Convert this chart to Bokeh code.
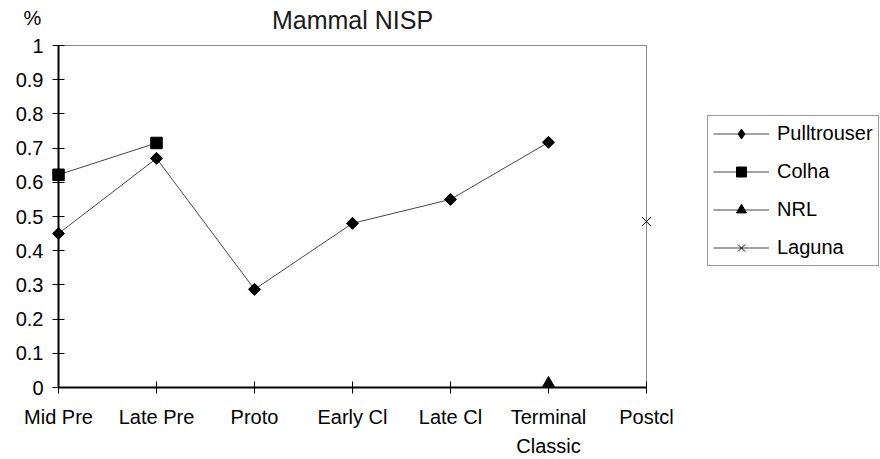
from bokeh.plotting import figure
from bokeh.models import (Range1d, FixedTicker, Legend, LegendItem, Label,
                          ColumnDataSource)
from bokeh.embed import file_html
from bokeh.resources import INLINE

# Periods along the x axis
periods = ["Mid Pre", "Late Pre", "Proto", "Early Cl", "Late Cl",
           "Terminal\nClassic", "Postcl"]

# Mammal NISP proportion per site (None where not recorded)
pulltrouser = [0.45, 0.67, 0.287, 0.48, 0.55, 0.717, None]
colha = [0.622, 0.715, None, None, None, None, None]
nrl = [None, None, None, None, None, 0.012, None]
laguna = [None, None, None, None, None, None, 0.485]

y_ticks = [0, 0.1, 0.2, 0.3, 0.4, 0.5, 0.6, 0.7, 0.8, 0.9, 1]
y_tick_labels = ["0", "0.1", "0.2", "0.3", "0.4", "0.5", "0.6", "0.7",
                 "0.8", "0.9", "1"]

FONT = "Liberation Sans"
INK = "black"
LINE = "#454545"
BORDER = "#8c8c8c"

# canvas size and where the axes sit on it (pixels)
W, H = 880, 459
AX_LEFT, AX_RIGHT = 58, 646      # x of first / last period
AX_BOTTOM, AX_TOP = 387, 45      # y of 0 / 1 (from canvas top)

n = len(periods)
px_x = (AX_RIGHT - AX_LEFT) / (n - 1)
px_y = (AX_BOTTOM - AX_TOP) / (y_ticks[-1] - y_ticks[0])
x_range = Range1d(-AX_LEFT / px_x, (W - AX_LEFT) / px_x)
y_range = Range1d(-(H - AX_BOTTOM) / px_y, 1 + AX_TOP / px_y)

p = figure(width=W, height=H, output_backend="svg", toolbar_location=None,
           x_range=x_range, y_range=y_range,
           min_border=0)
p.background_fill_color = "white"
p.border_fill_color = "white"
p.outline_line_color = None
p.xgrid.visible = False
p.ygrid.visible = False


def series(vals):
    xs = [i for i, v in enumerate(vals) if v is not None]
    ys = [v for v in vals if v is not None]
    return ColumnDataSource(dict(x=xs, y=ys))


# plot-area border on the top and right
p.line(x=[0, n - 1], y=[y_ticks[-1]] * 2, line_color=BORDER, line_width=1)
p.line(x=[n - 1] * 2, y=[y_ticks[0], y_ticks[-1]], line_color=BORDER,
       line_width=1)

line_kw = dict(line_color=LINE, line_width=1)

s_pt = series(pulltrouser)
s_co = series(colha)
s_nr = series(nrl)
s_la = series(laguna)

l_pt = p.line("x", "y", source=s_pt, **line_kw)
l_co = p.line("x", "y", source=s_co, **line_kw)
l_nr = p.line("x", "y", source=s_nr, **line_kw)
l_la = p.line("x", "y", source=s_la, **line_kw)

# Pulltrouser: narrow diamond (also used as legend swatch) under a
# square rotated 45 degrees, which gives the even diamond on the chart
m_pt_key = p.scatter("x", "y", source=s_pt, marker="diamond", size=10,
                     fill_color=INK, line_color=INK)
m_pt = p.scatter("x", "y", source=s_pt, marker="square", angle=0.7854,
                 size=8.5, fill_color=INK, line_color=INK)
m_co = p.scatter("x", "y", source=s_co, marker="square", size=11.5,
                 fill_color=INK, line_color=INK)
m_nr = p.scatter("x", "y", source=s_nr, marker="triangle", size=12,
                 fill_color=INK, line_color=INK)
m_la = p.scatter("x", "y", source=s_la, marker="x", size=13,
                 line_color=INK, line_width=1)

xa = p.below[0]
ya = p.left[0]
for ax in (xa, ya):
    ax.axis_line_color = INK
    ax.axis_line_width = 2
    ax.major_tick_line_color = INK
    ax.major_tick_line_width = 1
    ax.major_tick_in = 6
    ax.major_tick_out = 6
    ax.minor_tick_line_color = None
    ax.major_label_text_font = FONT
    ax.major_label_text_font_size = "20px"
    ax.major_label_text_color = INK

xa.fixed_location = 0
xa.bounds = (0, n - 1)
xa.ticker = FixedTicker(ticks=list(range(n)))
xa.major_label_overrides = {i: lab for i, lab in enumerate(periods)}
xa.major_label_standoff = 12
xa.major_label_text_line_height = 1.35

ya.fixed_location = 0
ya.bounds = (y_ticks[0], y_ticks[-1])
ya.ticker = FixedTicker(ticks=y_ticks)
ya.major_label_overrides = {t: lab for t, lab in zip(y_ticks, y_tick_labels)}
ya.major_label_standoff = 9

# chart title and the unit over the y axis
p.add_layout(Label(x=(n - 1) / 2, y=1 + 26 / px_y, text="Mammal NISP",
                   text_font=FONT, text_font_size="25px", text_align="center",
                   text_baseline="middle", text_color="#1a1a1a"))
p.add_layout(Label(x=-26 / px_x, y=1 + 28 / px_y, text="%", text_font=FONT,
                   text_font_size="20px", text_align="center",
                   text_baseline="middle", text_color=INK))

legend = Legend(items=[
    LegendItem(label="Pulltrouser", renderers=[l_pt, m_pt_key]),
    LegendItem(label="Colha", renderers=[l_co, m_co]),
    LegendItem(label="NRL", renderers=[l_nr, m_nr]),
    LegendItem(label="Laguna", renderers=[l_la, m_la]),
], location=(707, H - 266), orientation="vertical")
legend.border_line_color = "#333333"
legend.border_line_width = 1
legend.background_fill_color = "white"
legend.background_fill_alpha = 1
legend.label_text_font = FONT
legend.label_text_font_size = "20px"
legend.label_text_color = INK
legend.glyph_width = 56
legend.glyph_height = 25
legend.label_height = 25
legend.label_standoff = 8
legend.spacing = 13
legend.padding = 5
legend.margin = 0
p.add_layout(legend, "center")

open("out.html", "w").write(file_html(p, INLINE))
